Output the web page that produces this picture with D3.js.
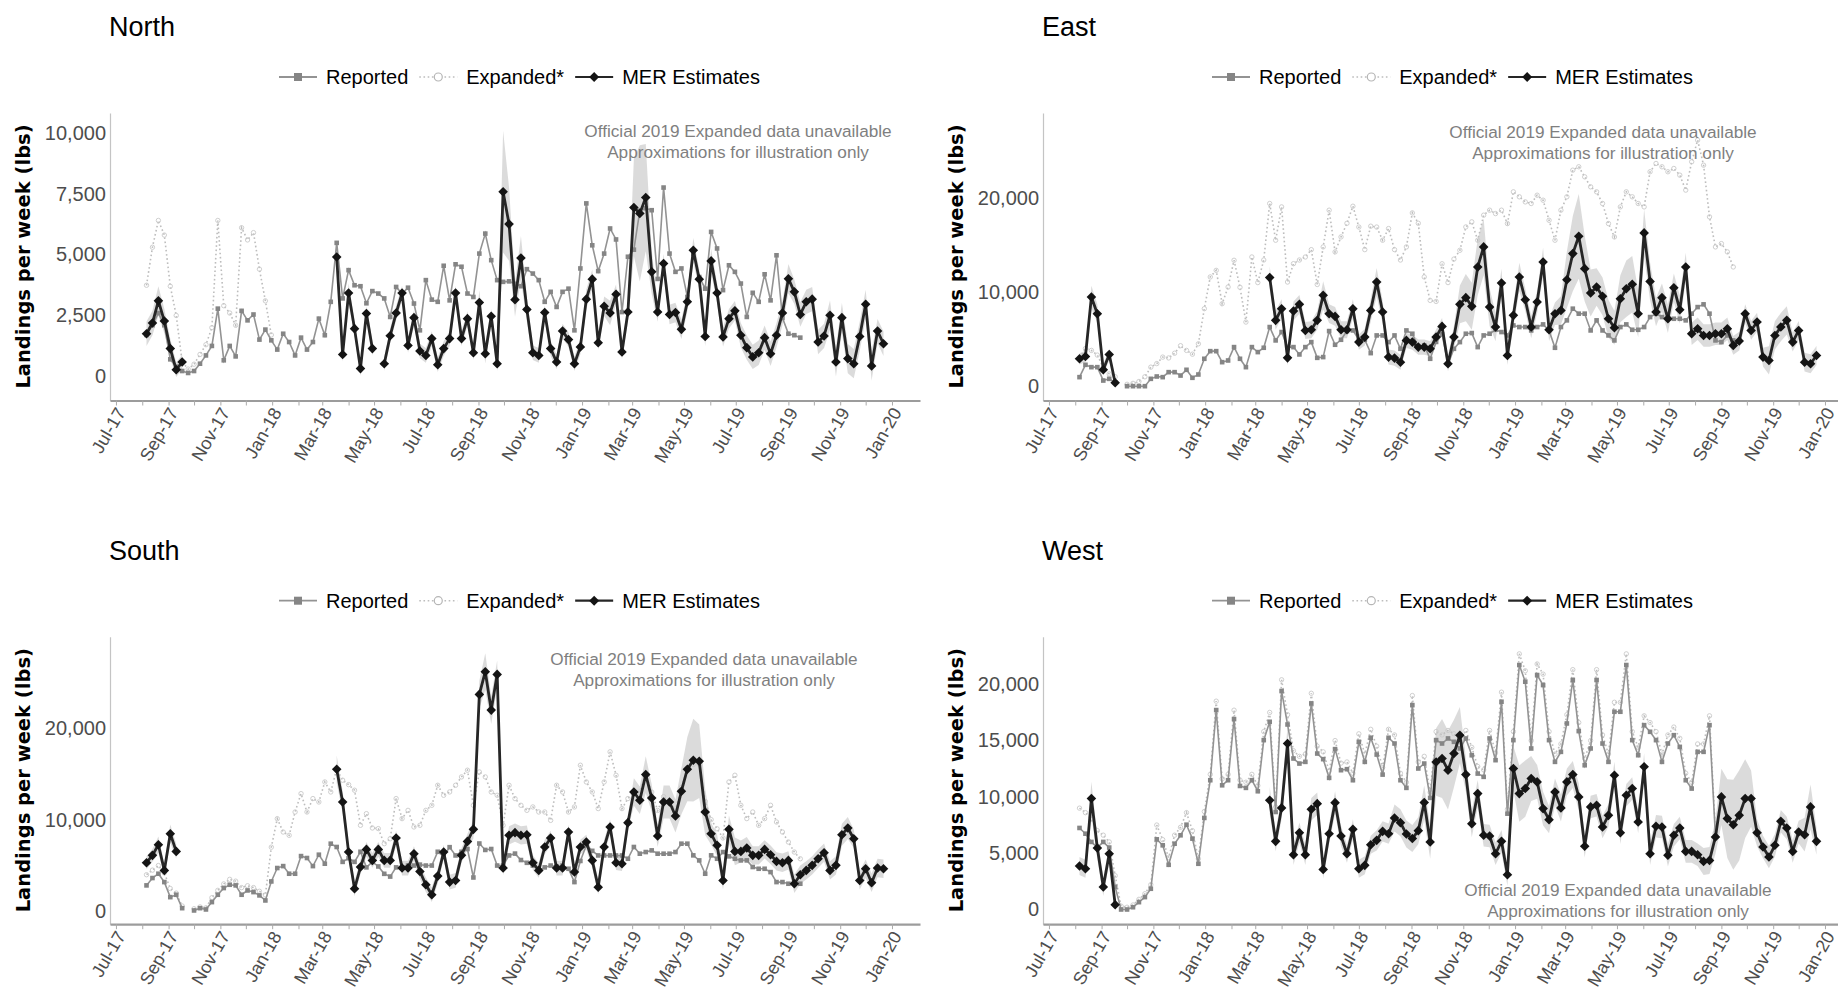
<!DOCTYPE html>
<html>
<head>
<meta charset="utf-8">
<script src="https://cdn.jsdelivr.net/npm/d3@7"></script>
<style>
  body { margin: 0; background: #fff; }
  text { font-family: "Liberation Sans", Arial, Helvetica, sans-serif; }
</style>
</head>
<body>
<svg id="chart" width="1838" height="993"></svg>
<script>
// ---- data (weekly, 2017-08-06 .. 2019-12-22, 125 weeks) ----
var nul = function (n) { return Array(n).fill(null); };

var xLabels = ["Jul-17", "Sep-17", "Nov-17", "Jan-18", "Mar-18", "May-18", "Jul-18", "Sep-18",
               "Nov-18", "Jan-19", "Mar-19", "May-19", "Jul-19", "Sep-19", "Nov-19", "Jan-20"];

var northTicks = [0, 2500, 5000, 7500, 10000];
var eastTicks = [0, 10000, 20000];
var southTicks = [0, 10000, 20000];
var westTicks = [0, 5000, 10000, 15000, 20000];

var northMER = [1750,2190,3100,2270,1140,270,590, ...nul(25),
  4900,900,3420,1960,320,2580,1140,null,520,1670,
  2600,3420,1270,2410,1040,860,1550,480,1140,1550,
  3420,1550,2370,970,3030,930,2470,520,7580,6250,
  3150,4860,2750,970,860,2620,1140,590,1860,1510,
  520,1210,3170,3990,1380,2880,2600,3370,1000,2640,
  6930,6690,7340,4290,2640,4630,2540,2620,1930,3060,
  5180,3990,1640,4740,3420,1620,2370,2690,1690,1180,
  800,970,1590,930,1690,2600,4010,3470,2540,3060,
  3170,1410,1660,2510,590,2410,730,520,1640,2960,
  430,1860,1340];
var northBand = [500,500,600,500,400,300,300, ...nul(25),
  700,300,400,300,300,300,300,null,300,300,
  300,300,300,300,300,300,300,300,300,300,
  300,300,300,300,500,400,300,300,2500,1500,
  700,900,500,300,300,300,300,300,300,300,
  300,300,400,400,300,400,500,400,300,400,
  2000,2800,2200,900,400,400,400,400,400,400,
  500,400,400,500,400,400,400,400,500,500,
  500,500,500,500,500,500,600,500,500,500,
  500,500,500,600,600,600,600,600,600,600,
  600,500,500];
var northRep = [1700,2100,2600,2100,700,400,220,140,220,520,
  860,1250,2780,660,1250,820,2690,2300,2540,1510,
  1920,1480,1100,1750,1410,860,1590,1100,1410,2370,
  1690,3060,5480,3200,4360,3740,3700,3000,3500,3400,
  3200,2440,3670,3400,3640,2990,1890,3950,3150,3060,
  4540,3120,4600,4500,3400,3260,5040,5860,4770,3950,
  3880,3900,3800,3700,4400,4220,3950,3060,3470,2850,
  3470,3600,1890,4430,7100,5380,4320,5040,6070,5620,
  2640,4910,5200,6800,6900,6820,4000,7750,5040,4290,
  4430,3260,5040,4080,3600,5930,5250,3540,4560,4290,
  3810,2440,3430,3060,4190,3120,4970,2400,1750,1690,
  1590, ...nul(14)];
var northExp = [3740,5300,6400,5800,3700,2500,600,300,500,900,
  1300,2000,6400,2900,2600,2100,6100,5600,5900,4400,
  3100,1700, ...nul(103)];

var eastMER = [2910,3160,9470,7700,1740,3370,360, ...nul(25),
  11530,6990,8230,3010,7980,8690,5920,5990,6990,9650,
  7700,7410,5990,5990,8230,4680,5210,8050,11060,7870,
  3090,2980,2550,4860,4680,4150,4150,3970,5210,6350,
  2380,5210,8690,9400,8480,12660,14790,8400,6280,10960,
  3260,7520,11600,9180,6280,8940,13190,5990,7700,8050,
  11310,14080,15920,12480,9890,10530,9540,7160,6210,9290,
  10350,10820,7700,16280,11130,7870,9400,7160,10460,8120,
  12660,5570,6100,5390,5390,5570,5570,6100,4330,4790,
  7700,5920,6810,3090,2730,5390,6280,6990,4680,5920,
  2550,2380,3260];
var eastBand = [600,600,1200,1000,600,600,400, ...nul(25),
  1200,1000,1000,800,1000,1000,900,900,1000,1500,
  1000,1000,900,900,1000,800,900,1200,1500,1200,
  800,800,800,800,800,800,800,800,800,900,
  800,1200,2000,2500,2500,3000,3000,2000,1500,1500,
  1000,1200,1500,1200,1200,1200,1500,1200,1200,1500,
  3000,4000,4500,3500,2500,2000,2000,2000,1800,2500,
  3000,3000,2500,2500,2000,1500,1500,1500,1500,1500,
  1500,1200,1200,1200,1200,1200,1200,1200,1000,1000,
  1000,1000,1000,1000,1500,1500,1500,1500,1000,1000,
  1000,1000,1000];
var eastRep = [960,2270,2020,2020,600,780,400,null,0,0,
  0,0,780,1030,960,1490,1490,1130,1740,890,
  1240,2910,3720,3720,2550,2730,4150,2910,2020,4150,
  3620,4080,6280,4860,5750,4150,4150,3370,4150,4680,
  3010,3090,5850,4400,4930,5850,5920,4930,4930,3510,
  5390,5390,4680,5390,3970,5920,5570,4150,4330,2910,
  4700,5500,2380,3970,4680,5570,5640,4150,5390,5570,
  5990,5750,5390,6450,6280,6280,5920,6280,6560,5920,
  4080,6280,6990,8230,7700,7700,5920,6990,5920,5390,
  4860,6280,6560,5990,5990,6280,7340,7700,7340,7160,
  7160,7160,6990,7700,8400,8690,7700,4860,4680,5390,
  4860, ...nul(14)];
var eastExp = [3000,4000,3800,3300,2000,1300,1000,null,200,300,
  500,1000,2020,2400,3090,3000,3500,4300,3800,3400,
  4500,8230,11600,12300,8760,10530,13370,10500,6810,13720,
  11000,13400,19400,15500,19040,11060,13010,13400,13720,14500,
  10800,14790,18690,14260,15850,17300,19110,16900,14500,16990,
  16900,15500,16740,14500,13400,14790,18400,17300,11600,9110,
  9000,13000,11000,13500,14430,16910,17450,15500,18160,18690,
  18330,18690,17270,20640,20110,19570,19400,20280,19750,17620,
  15500,18690,20110,22940,23300,22230,21170,20640,19400,17270,
  15850,19040,20640,20110,19400,19040,22770,23650,23300,22770,
  23120,22410,20820,23830,26130,23470,17980,14790,15140,14260,
  12660, ...nul(14)];

var southMER = [5310,6110,7270,4470,8470,6540, ...nul(26),
  15490,11920,6470,2470,4840,6760,5560,6760,5560,5560,
  8000,4730,4730,6290,4360,2910,1820,3850,6470,3200,
  3380,6110,7630,8940,23630,26100,21920,25810,4730,8290,
  8580,8290,8360,5310,4470,7020,8000,4730,4730,8650,
  4290,7020,7560,5560,2650,7020,9200,5310,5200,9670,
  13010,12110,14900,12360,8220,11920,11920,10400,13090,15490,
  16470,16360,10830,8470,7200,3380,8940,6540,6540,6910,
  6110,6110,6760,6180,5450,5310,5560,3020,4000,4470,
  5020,5740,6400,4470,5020,8360,9090,7920,3380,4650,
  3130,4730,4650];
var southBand = [700,700,900,700,1000,800, ...nul(26),
  1500,1200,800,800,800,800,800,800,800,800,
  800,800,800,800,800,800,800,800,800,800,
  800,800,800,1000,1500,2000,1500,1500,800,1000,
  1000,1000,1000,800,800,800,800,800,800,800,
  800,800,800,800,800,800,800,800,800,800,
  1500,1500,2000,1500,1200,1800,1800,1800,2500,3500,
  4500,4000,2500,1200,1200,1000,1500,1500,1200,1200,
  1000,1000,1000,1000,1000,1000,1000,1000,1000,1000,
  1000,1000,1000,1000,1000,1200,1200,1000,1000,1000,
  1000,1000,1000];
var southRep = [2840,3640,4110,3200,1560,1820,360,null,110,360,
  220,1020,1820,2550,2910,2840,1820,2290,2110,1750,
  1200,3270,4730,4940,4110,4110,6030,5820,4940,6180,
  5200,7380,7020,5400,5800,5400,6500,4800,5400,4900,
  4100,3800,4800,4800,5000,5000,5100,5000,5000,6500,
  6000,7000,6100,6500,6800,3700,7400,6700,6800,5000,
  5000,6100,6300,5600,5300,5000,4500,4800,5000,4900,
  5000,4650,3200,5500,7200,6600,6100,6100,6100,6100,
  6100,5740,7020,6290,6470,6650,6290,6290,6290,6470,
  7380,7380,6110,5560,4110,6110,5740,6470,6000,5740,
  5560,5560,4840,4650,4650,4290,3200,3200,3020,3020,
  3020, ...nul(14)];
var southExp = [4000,4500,5000,4200,2500,2000,600,null,300,500,
  400,1500,2300,3000,3500,3300,2600,2800,2600,2200,
  1800,7000,10100,8650,8290,10830,12830,10830,12290,11920,
  14100,13010,15500,14290,13810,13200,9380,10650,9090,9020,
  7380,7920,12290,10110,11010,9200,9380,11010,11560,13740,
  12650,13010,13740,14650,15380,11560,15190,14650,13010,12650,
  9380,13740,12290,11560,11010,11380,10830,10830,9920,13740,
  13010,10830,11380,15920,14100,13010,11200,14100,17380,14830,
  11200,12290,13000,13000,15000,13000,11000,12500,12000,11000,
  13500,15500,16000,16000,12000,10000,9000,8000,14100,14830,
  11560,10110,10830,9380,10110,11560,9740,8650,7560,6470,
  5740, ...nul(14)];

var westMER = [3860,3620,9850,5460,1990,4950,420, ...nul(25),
  9700,6050,9020,14740,4860,6820,4860,8900,9400,3560,
  6730,9490,6530,4950,7120,3620,3920,5750,6140,6940,
  6730,8130,7710,6700,6300,7000,9500,6000,13100,13410,
  12370,13850,15480,11980,7620,10290,6590,6530,4950,6050,
  3090,12520,10290,10740,11630,11330,8960,7980,10440,9020,
  11330,11980,10000,5610,9110,9250,7330,8360,11920,6820,
  10140,10740,7770,12670,4950,7390,7330,4810,6590,7240,
  5160,5160,4860,4270,4360,6440,10000,8070,7530,8360,
  9850,9850,6820,5550,4660,5700,7830,7240,5160,6880,
  6640,9110,6050];
var westBand = [800,800,1500,1000,800,800,500, ...nul(25),
  1200,900,1000,1500,900,900,900,1000,1000,800,
  900,1000,900,800,900,800,800,800,900,900,
  900,1200,1200,1200,1200,1200,1500,1500,3000,3500,
  3500,3000,2500,1500,1200,1200,1000,1000,1000,1000,
  1000,2000,2500,2500,2000,1500,1500,1200,1200,1200,
  1200,1200,1200,1000,1000,1000,1000,1000,1200,1000,
  1000,1000,1000,1200,1000,1000,1000,1000,1000,1000,
  1000,1000,1000,1200,1200,1500,2500,3500,4000,4000,
  3500,2500,1200,1000,1000,1000,1000,1000,1000,1000,
  1500,2000,1200];
var westRep = [7240,6730,6000,5500,6000,5500,2000,0,0,200,
  650,1100,1840,6230,5700,3970,5840,6590,7530,6290,
  4060,8130,11480,17710,11030,11480,16910,10970,10800,11480,
  10500,15040,16670,8660,19400,16430,13410,12960,13110,18300,
  13850,13350,11690,14240,12370,12460,11480,14890,13110,15250,
  13760,11980,15250,14740,11480,10800,18150,12520,12960,9910,
  15040,14740,15190,14890,14300,15190,13700,12070,11780,15190,
  13260,18450,8510,15040,21710,20230,14300,20820,19930,15040,
  13110,14000,16520,20380,15840,12810,14300,20380,14740,13110,
  17560,17560,21710,15040,13700,16370,15780,15040,13110,14740,
  15480,14440,11480,10740,14000,14000,16370,6500, ...nul(17)];
var westExp = [9000,8600,8000,7000,6600,6000,3000,300,200,400,
  900,1400,2200,7500,6200,4600,6600,7300,8600,7000,
  4500,8700,12000,18500,11600,12000,17700,11500,11300,12000,
  11000,15800,17500,9100,20400,17300,14100,13600,13800,19200,
  14500,14000,12300,15000,13000,13100,12100,15600,13800,16000,
  14500,12600,16000,15500,12100,11300,19000,13100,13600,10400,
  15800,15500,15900,15600,15000,15900,14400,12700,12400,15900,
  13900,19300,8900,15800,22700,21200,15000,21800,20900,15800,
  13800,14700,17300,21300,16600,13400,15000,21300,15500,13800,
  18400,18400,22700,15800,14400,17200,16600,15800,13800,15500,
  16200,15200,12100,11300,14700,14700,17200,6800, ...nul(17)];

var weeks = d3.timeWeek.range(new Date(2017, 7, 6), new Date(2019, 11, 23));

[northMER, northBand, northRep, northExp, eastMER, eastBand, eastRep, eastExp,
 southMER, southBand, southRep, southExp, westMER, westBand, westRep, westExp].forEach(function (a, k) {
  if (a.length !== weeks.length) throw new Error("series " + k + " has " + a.length + " values, expected " + weeks.length);
});

var panels = [
  {name: "North", dx: 0,   dy: 0,     yDomain: [-990, 10810],  ticks: northTicks, mer: northMER, band: northBand, rep: northRep, exp: northExp, note: [738, 131]},
  {name: "East",  dx: 933, dy: 0,     yDomain: [-1520, 29010], ticks: eastTicks,  mer: eastMER,  band: eastBand,  rep: eastRep,  exp: eastExp,  note: [670, 132]},
  {name: "South", dx: 0,   dy: 523.7, yDomain: [-1385, 29913], ticks: southTicks, mer: southMER, band: southBand, rep: southRep, exp: southExp, note: [704, 135]},
  {name: "West",  dx: 933, dy: 523.7, yDomain: [-1307, 24226], ticks: westTicks,  mer: westMER,  band: westBand,  rep: westRep,  exp: westExp,  note: [685, 366.5]}
];

var svg = d3.select("#chart");
var parseLabel = d3.timeParse("%b-%y");
var labelDates = xLabels.map(parseLabel);
var months = d3.timeMonth.range(labelDates[0], d3.timeDay.offset(labelDates[labelDates.length - 1], 1));
var labelByTime = {};
labelDates.forEach(function (d, i) { labelByTime[+d] = xLabels[i]; });

var C = {
  rep: "#939393", repMark: "#858585",
  exp: "#bdbdbd",
  mer: "#262626", merMark: "#141414",
  band: "#d2d2d2",
  axis: "#9c9c9c", tickText: "#4d4d4d", note: "#7f7f7f"
};

function diamond(sel, size) {
  sel.attr("d", d3.symbol(d3.symbolSquare, size)());
}

function drawPanel(p) {
  var g = svg.append("g").attr("transform", "translate(" + p.dx + "," + p.dy + ")");
  var x = d3.scaleTime().domain([new Date(2017, 5, 24), new Date(2020, 1, 3)]).range([110, 920]);
  var y = d3.scaleLinear().domain(p.yDomain).range([400.5, 113]);

  var rows = weeks.map(function (d, i) {
    return {date: d, mer: p.mer[i], band: p.band[i], rep: p.rep[i], exp: p.exp[i]};
  });

  // band round the MER estimates
  var area = d3.area()
      .defined(function (d) { return d.mer != null && d.band != null; })
      .x(function (d) { return x(d.date); })
      .y0(function (d) { return y(d.mer - d.band); })
      .y1(function (d) { return y(d.mer + d.band); });
  g.append("path").datum(rows).attr("d", area)
      .attr("fill", C.band).attr("opacity", 0.8);

  function lineOf(key) {
    return d3.line()
      .defined(function (d) { return d[key] != null; })
      .x(function (d) { return x(d.date); })
      .y(function (d) { return y(d[key]); });
  }

  // Expanded*
  g.append("path").datum(rows).attr("d", lineOf("exp"))
      .attr("fill", "none").attr("stroke", C.exp).attr("stroke-width", 1.6)
      .attr("stroke-dasharray", "1.6,2.6");
  g.selectAll(".expPt").data(rows.filter(function (d) { return d.exp != null; }))
    .enter().append("circle")
      .attr("cx", function (d) { return x(d.date); })
      .attr("cy", function (d) { return y(d.exp); })
      .attr("r", 2.2).attr("fill", "none").attr("stroke", "#c9c9c9").attr("stroke-width", 0.9);

  // Reported
  g.append("path").datum(rows).attr("d", lineOf("rep"))
      .attr("fill", "none").attr("stroke", C.rep).attr("stroke-width", 1.6);
  g.selectAll(".repPt").data(rows.filter(function (d) { return d.rep != null; }))
    .enter().append("rect")
      .attr("x", function (d) { return x(d.date) - 2.3; })
      .attr("y", function (d) { return y(d.rep) - 2.3; })
      .attr("width", 4.6).attr("height", 4.6).attr("fill", C.repMark);

  // MER Estimates
  g.append("path").datum(rows).attr("d", lineOf("mer"))
      .attr("fill", "none").attr("stroke", C.mer).attr("stroke-width", 2.8)
      .attr("stroke-linejoin", "round");
  g.selectAll(".merPt").data(rows.filter(function (d) { return d.mer != null; }))
    .enter().append("path")
      .call(diamond, 46)
      .attr("transform", function (d) { return "translate(" + x(d.date) + "," + y(d.mer) + ") rotate(45)"; })
      .attr("fill", C.merMark);

  // y axis
  var ya = g.append("g").attr("transform", "translate(110,0)")
      .call(d3.axisLeft(y).tickValues(p.ticks).tickSize(0).tickPadding(4).tickFormat(d3.format(",")));
  ya.select(".domain").attr("stroke", "#c4c4c4").attr("stroke-width", 1.2);
  ya.selectAll("text").attr("font-size", 20).attr("fill", C.tickText)
      .style("font-family", "'Liberation Sans', Arial, sans-serif");

  // x axis
  var xa = g.append("g").attr("transform", "translate(0,400.5)")
      .call(d3.axisBottom(x).tickValues(months).tickSize(5).tickSizeOuter(0)
            .tickFormat(function (d) { return labelByTime[+d] || ""; }));
  xa.select(".domain").attr("stroke", C.axis).attr("stroke-width", 2.2);
  xa.selectAll(".tick line").attr("stroke", "#aaaaaa").attr("stroke-width", 1);
  xa.selectAll("text")
      .attr("x", 0).attr("y", 0).attr("dy", "0.75em")
      .attr("transform", "translate(-2,5) rotate(-60)")
      .attr("text-anchor", "end")
      .attr("font-size", 18).attr("fill", C.tickText)
      .style("font-family", "'Liberation Sans', Arial, sans-serif");

  // axis title
  g.append("text")
      .attr("transform", "translate(30,256.5) rotate(-90)")
      .attr("text-anchor", "middle")
      .attr("font-size", 19.5).attr("font-weight", "bold").attr("fill", "#000")
      .style("font-family", "'DejaVu Sans', Verdana, sans-serif")
      .text("Landings per week (lbs)");

  // panel title
  g.append("text").attr("x", 109).attr("y", 36)
      .attr("font-size", 27).attr("fill", "#000").text(p.name);

  // note
  var note = g.append("text").attr("text-anchor", "middle")
      .attr("font-size", 17.2).attr("fill", C.note);
  note.append("tspan").attr("x", p.note[0]).attr("y", p.note[1]).attr("dy", "0.35em")
      .text("Official 2019 Expanded data unavailable");
  note.append("tspan").attr("x", p.note[0]).attr("y", p.note[1] + 21).attr("dy", "0.35em")
      .text("Approximations for illustration only");

  drawLegend(g);
}

function drawLegend(g) {
  var ly = 77, cx = 279, keyW = 38;
  var items = [
    {label: "Reported", kind: "rep"},
    {label: "Expanded*", kind: "exp"},
    {label: "MER Estimates", kind: "mer"}
  ];
  items.forEach(function (it) {
    var line = g.append("line").attr("x1", cx).attr("x2", cx + keyW).attr("y1", ly).attr("y2", ly);
    var mx = cx + keyW / 2;
    if (it.kind === "rep") {
      line.attr("stroke", C.rep).attr("stroke-width", 1.8);
      g.append("rect").attr("x", mx - 4).attr("y", ly - 4).attr("width", 8).attr("height", 8).attr("fill", C.repMark);
    } else if (it.kind === "exp") {
      line.attr("stroke", C.exp).attr("stroke-width", 1.6).attr("stroke-dasharray", "1.6,2.6");
      g.append("circle").attr("cx", mx).attr("cy", ly).attr("r", 4)
          .attr("fill", "#fff").attr("stroke", "#b5b5b5").attr("stroke-width", 1.2);
    } else {
      line.attr("stroke", C.mer).attr("stroke-width", 2.2);
      g.append("path").call(diamond, 50)
          .attr("transform", "translate(" + mx + "," + ly + ") rotate(45)").attr("fill", C.merMark);
    }
    var t = g.append("text").attr("x", cx + keyW + 9).attr("y", ly).attr("dy", "0.35em")
        .attr("font-size", 20).attr("fill", "#000").text(it.label);
    cx += keyW + 9 + t.node().getComputedTextLength() + 11;
  });
}

panels.forEach(drawPanel);
</script>
</body>
</html>
